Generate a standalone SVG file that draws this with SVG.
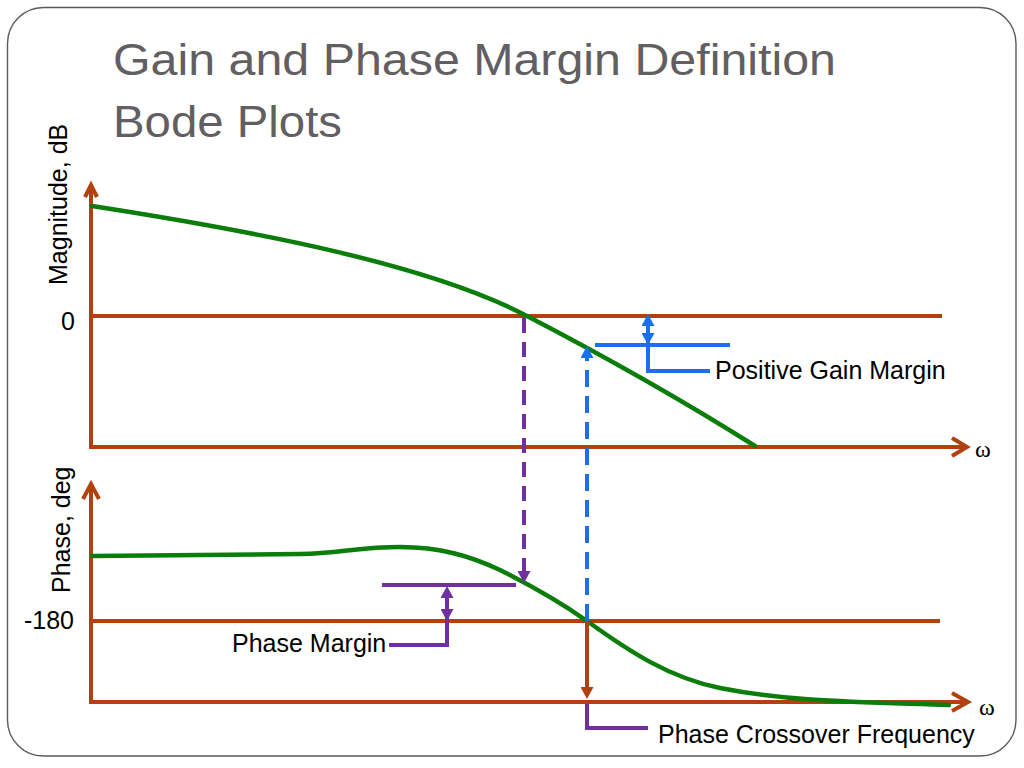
<svg xmlns="http://www.w3.org/2000/svg" width="1024" height="768" viewBox="0 0 1024 768">
  <style>
    .frame { fill: #ffffff; stroke: #5a5a5a; stroke-width: 1.4; }
    .title { font-family: "Liberation Sans", Arial, sans-serif; font-size: 44px; fill: #625e61; }
    .lbl { font-family: "Liberation Sans", Arial, sans-serif; font-size: 25px; fill: #000000; }
    .omega { font-family: "Liberation Serif", "Times New Roman", serif; font-size: 24px; fill: #000000; }
    .axis { fill: none; stroke: #b3400f; stroke-width: 4; stroke-linecap: butt; }
    .chev { fill: none; stroke: #b3400f; stroke-width: 4; stroke-linejoin: miter; }
    .curve { fill: none; stroke: #0a7d0a; stroke-width: 4.5; stroke-linecap: round; }
    .purple { fill: none; stroke: #7030a0; stroke-width: 4; }
    .blue { fill: none; stroke: #1a6ff0; stroke-width: 4; }
    .brown { fill: none; stroke: #b3400f; stroke-width: 4; }
    .dash-p { stroke-dasharray: 15 9; }
    .dash-b { stroke-dasharray: 17 9; }
  </style>
  <defs>
    <marker id="headP" viewBox="0 0 12 13" refX="5" refY="6.5" markerWidth="12" markerHeight="13" markerUnits="userSpaceOnUse" orient="auto-start-reverse">
      <path d="M0,0 L12,6.5 L0,13 z" fill="#7030a0"/>
    </marker>
    <marker id="headB" viewBox="0 0 12 13" refX="5" refY="6.5" markerWidth="12" markerHeight="13" markerUnits="userSpaceOnUse" orient="auto-start-reverse">
      <path d="M0,0 L12,6.5 L0,13 z" fill="#1a6ff0"/>
    </marker>
    <marker id="headR" viewBox="0 0 12 13" refX="5" refY="6.5" markerWidth="12" markerHeight="13" markerUnits="userSpaceOnUse" orient="auto-start-reverse">
      <path d="M0,0 L12,6.5 L0,13 z" fill="#b3400f"/>
    </marker>
  </defs>

  <rect class="frame" x="7.5" y="7.5" width="1008.5" height="748.5" rx="36" ry="36"/>

  <g id="title">
    <text class="title" x="113" y="75" textLength="723" lengthAdjust="spacingAndGlyphs">Gain and Phase Margin Definition</text>
    <text class="title" x="113" y="137" textLength="229" lengthAdjust="spacingAndGlyphs">Bode Plots</text>
  </g>

  <g id="magnitude-axes">
    <line class="axis" x1="91" y1="449" x2="91" y2="186"/>
    <polyline class="chev" points="85,197 91,185 97,197"/>
    <line class="axis" x1="89" y1="447" x2="966" y2="447"/>
    <polyline class="chev" points="952,438 967,447 952,456"/>
    <line class="axis" x1="91" y1="316" x2="942" y2="316"/>
    <text class="lbl" transform="translate(67,285) rotate(-90)">Magnitude, dB</text>
    <text class="lbl" x="75" y="330" text-anchor="end">0</text>
    <text class="omega" x="975" y="457">ω</text>
  </g>

  <g id="phase-axes">
    <line class="axis" x1="91" y1="704" x2="91" y2="486"/>
    <polyline class="chev" points="83,499 91,484 99,499"/>
    <line class="axis" x1="89" y1="702" x2="967" y2="702"/>
    <polyline class="chev" points="952,693 968,702 952,711"/>
    <line class="axis" x1="91" y1="621" x2="940" y2="621"/>
    <text class="lbl" transform="translate(70,593) rotate(-90)">Phase, deg</text>
    <text class="lbl" x="74" y="629" text-anchor="end">-180</text>
    <text class="omega" x="979" y="715">ω</text>
  </g>

  <g id="magnitude-curve">
    <path class="curve" d="M92,206 C260,232 430,265 527,316 C600,354 690,405 755,446"/>
  </g>

  <g id="phase-curve">
    <path class="curve" d="M92,556 L300,554 C340,553 360,547 400,547 C440,547 470,556 500,570 C530,585 560,602 587,621 C630,652 670,678 720,688 C790,702 860,702 949,705"/>
  </g>

  <g id="connectors">
    <line class="purple dash-p" x1="524" y1="318" x2="524" y2="576" marker-end="url(#headP)"/>
    <line class="blue dash-b" x1="587" y1="621" x2="587" y2="353" marker-end="url(#headB)"/>
    <line class="brown" x1="587" y1="621" x2="587" y2="692" marker-end="url(#headR)"/>
  </g>

  <g id="gain-margin">
    <line class="blue" x1="595" y1="345" x2="730" y2="345"/>
    <line class="blue" x1="648" y1="321" x2="648" y2="338" marker-start="url(#headB)" marker-end="url(#headB)"/>
    <polyline class="blue" points="648,338 648,371 710,371"/>
    <text class="lbl" x="715" y="379">Positive Gain Margin</text>
  </g>

  <g id="phase-margin">
    <line class="purple" x1="382" y1="585" x2="516" y2="585"/>
    <line class="purple" x1="447" y1="593" x2="447" y2="614" marker-start="url(#headP)" marker-end="url(#headP)"/>
    <polyline class="purple" points="447,614 447,645 389,645"/>
    <text class="lbl" x="232" y="652">Phase Margin</text>
  </g>

  <g id="phase-crossover">
    <polyline class="purple" points="587,704 587,728 648,728"/>
    <text class="lbl" x="658" y="743">Phase Crossover Frequency</text>
  </g>
</svg>
